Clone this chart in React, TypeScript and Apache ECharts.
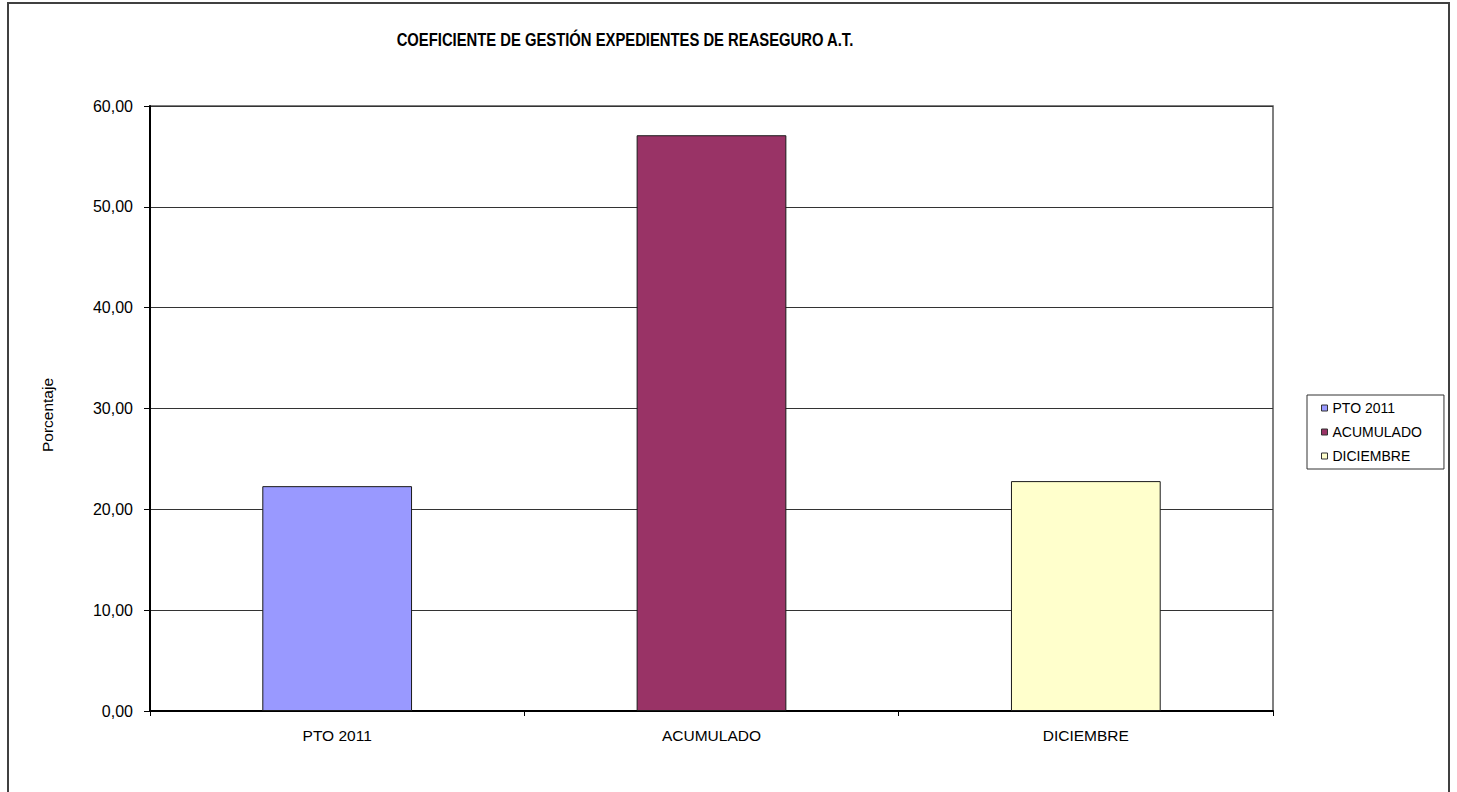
import React, { useEffect, useRef } from "react";
import * as echarts from "echarts";

const titleText = "COEFICIENTE DE GESTIÓN EXPEDIENTES DE REASEGURO A.T.";
const yAxisName = "Porcentaje";
const categories = ["PTO 2011", "ACUMULADO", "DICIEMBRE"];
const seriesNames = ["PTO 2011", "ACUMULADO", "DICIEMBRE"];
const seriesValues = [22.3, 57.1, 22.8];
const seriesColors = ["#9999FF", "#993366", "#FFFFCC"];

const FONT = "'Liberation Sans', Arial, Helvetica, sans-serif";

export default function App() {
  const ref = useRef<HTMLDivElement | null>(null);

  useEffect(() => {
    if (!ref.current) return;
    const chart = echarts.init(ref.current, undefined, { renderer: "svg" });

    const series = seriesNames.map((name, i) => ({
      name,
      type: "bar",
      stack: "all",
      barWidth: "40%",
      data: categories.map((_, j) => (j === i ? seriesValues[i] : "-")),
      itemStyle: {
        color: seriesColors[i],
        borderColor: "#1a1a1a",
        borderWidth: 1,
      },
    }));

    chart.setOption({
      animation: false,
      backgroundColor: "#ffffff",
      textStyle: { fontFamily: FONT },
      graphic: [
        {
          type: "rect",
          silent: true,
          z: -10,
          shape: { x: 8, y: 3, width: 1441, height: 830 },
          style: { fill: "none", stroke: "#404040", lineWidth: 2 },
        },
        {
          type: "text",
          x: 625,
          y: 40,
          scaleX: 0.78,
          style: {
            text: titleText,
            fontFamily: FONT,
            fontWeight: "bold",
            fontSize: 19,
            fill: "#000",
            textAlign: "center",
            textVerticalAlign: "middle",
          },
        },
        {
          type: "text",
          x: 47,
          y: 415,
          rotation: Math.PI / 2,
          style: {
            text: yAxisName,
            fontFamily: FONT,
            fontSize: 15.5,
            fill: "#000",
            textAlign: "center",
            textVerticalAlign: "middle",
          },
        },
      ],
      legend: {
        orient: "vertical",
        left: 1307,
        top: 395,
        itemWidth: 6,
        itemHeight: 6,
        itemGap: 10,
        padding: [6, 22, 6, 14],
        borderColor: "#333",
        borderWidth: 1,
        icon: "rect",
        data: seriesNames,
        itemStyle: { borderColor: "#333", borderWidth: 1 },
        textStyle: { fontFamily: FONT, fontSize: 14, color: "#000" },
      },
      grid: {
        left: 150,
        right: 184,
        top: 106,
        bottom: 81,
        show: true,
        borderColor: "#555",
        borderWidth: 1.5,
        containLabel: false,
      },
      xAxis: {
        type: "category",
        data: categories,
        axisLine: { show: true, lineStyle: { color: "#000", width: 2 } },
        axisTick: { show: true, length: 5, lineStyle: { color: "#000" } },
        axisLabel: { fontFamily: FONT, fontSize: 15.5, color: "#000", margin: 16 },
        splitLine: { show: false },
      },
      yAxis: {
        type: "value",
        min: 0,
        max: 60,
        interval: 10,
        axisLine: { show: true, lineStyle: { color: "#000", width: 2 } },
        axisTick: { show: true, length: 6, lineStyle: { color: "#000" } },
        axisLabel: {
          fontFamily: FONT,
          fontSize: 16,
          color: "#000",
          margin: 17,
          formatter: (v: number) => v.toFixed(2).replace(".", ","),
        },
        splitLine: { show: true, lineStyle: { color: "#333", width: 1 } },
      },
      series,
    });

    return () => chart.dispose();
  }, []);

  return (
    <div
      ref={ref}
      style={{ position: "absolute", left: 0, top: 0, width: 1457, height: 792 }}
    />
  );
}
